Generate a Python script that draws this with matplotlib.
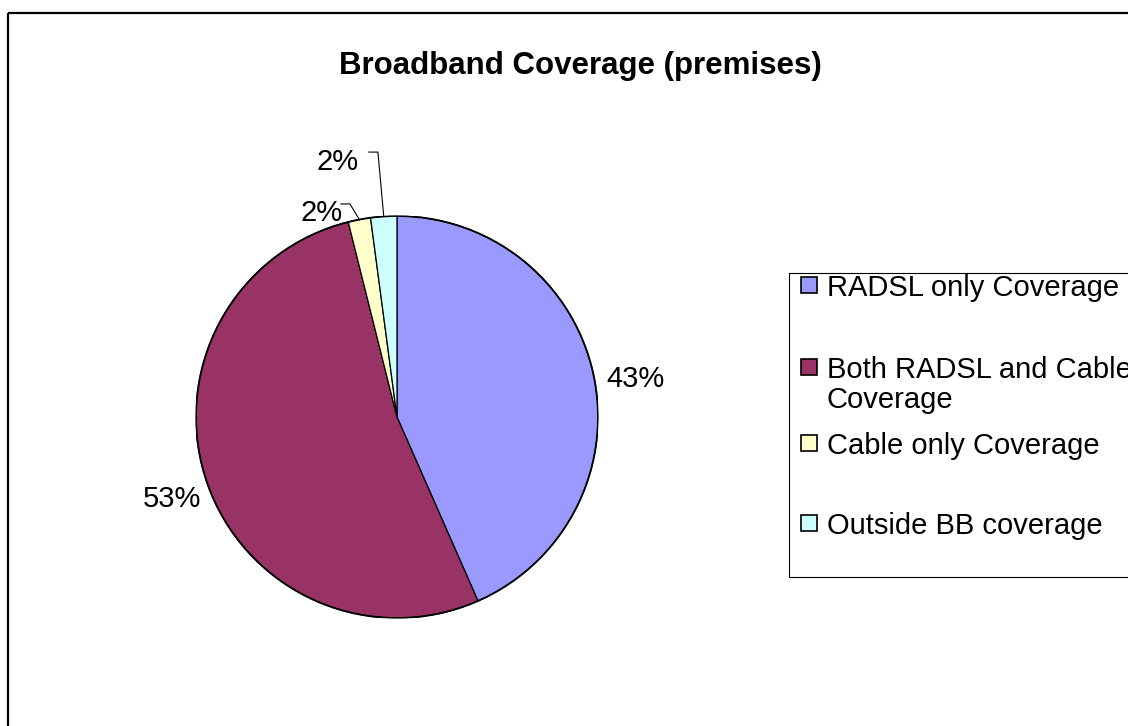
import matplotlib
matplotlib.use("Agg")
import matplotlib.pyplot as plt
from matplotlib.patches import Rectangle
import numpy as np

plt.rcParams['font.family'] = ['Liberation Sans', 'DejaVu Sans']

title = "Broadband Coverage (premises)"
categories = ["RADSL only Coverage", "Both RADSL and Cable\nCoverage",
              "Cable only Coverage", "Outside BB coverage"]
values = [43.4, 52.7, 1.8, 2.1]
pct_labels = ["43%", "53%", "2%", "2%"]
colors = ["#9999FF", "#993366", "#FFFFCC", "#CCFFFF"]

W, H = 1128, 726
fig = plt.figure(figsize=(W / 100, H / 100), dpi=100)
fig.patch.set_facecolor("white")

# overlay axes in pixel coordinates
ov = fig.add_axes([0, 0, 1, 1])
ov.set_xlim(0, W)
ov.set_ylim(H, 0)
ov.axis("off")

# outer chart frame
ov.add_patch(Rectangle((8, 13), 1200, 800, fill=False, edgecolor="black", lw=1.6))

ov.text(580, 66, title, ha="center", va="center", fontsize=22.5, fontweight="bold")

# pie axes
cx, cy, r = 397, 417, 201
ax = fig.add_axes([(cx - r) / W, (H - cy - r) / H, 2 * r / W, 2 * r / H])
wedges, _ = ax.pie(values, colors=colors, startangle=90, counterclock=False,
                   wedgeprops=dict(edgecolor="black", linewidth=0.9))
ax.set_xlim(-1, 1)
ax.set_ylim(-1, 1)
ax.set_aspect("equal")
ax.axis("off")
circ = plt.Circle((0, 0), 1, fill=False, edgecolor="black", lw=1.3)
ax.add_patch(circ)

label_pos = [(1.186, 0.19), (-1.12, -0.41), (-0.373, 1.015), (-0.294, 1.27)]
corner_pos = [None, None, (-0.234, 1.06), (-0.095, 1.318)]
for w, lab, lp, cp in zip(wedges, pct_labels, label_pos, corner_pos):
    ax.text(lp[0], lp[1], lab, ha="center", va="center", fontsize=21, clip_on=False)
    if cp is not None:
        mid = np.deg2rad((w.theta1 + w.theta2) / 2)
        ex, ey = np.cos(mid), np.sin(mid)
        ax.plot([cp[0] - 0.045, cp[0], ex], [cp[1], cp[1], ey],
                color="black", lw=0.8, clip_on=False)

# legend box
ov.add_patch(Rectangle((789, 273), 400, 304, fill=False, edgecolor="black", lw=0.8))
text_y = [287, 369, 445, 525]
for cat, col, ty in zip(categories, colors, text_y):
    ov.add_patch(Rectangle((801, ty - 10), 16, 16, facecolor=col,
                           edgecolor="black", lw=1.2))
    ov.text(827, ty - 13, cat, ha="left", va="top", fontsize=21,
            linespacing=1.08)

fig.savefig("out.png", dpi=100)
